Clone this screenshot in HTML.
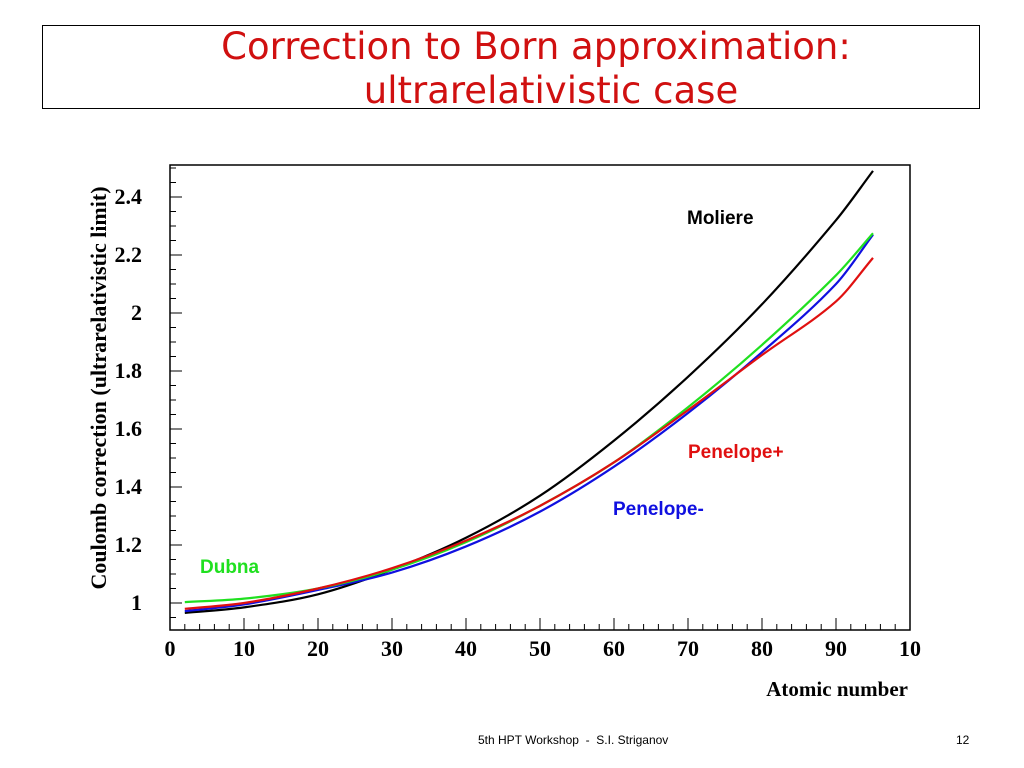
<!DOCTYPE html>
<html><head><meta charset="utf-8"><style>
body{margin:0;background:#fff;width:1024px;height:768px;overflow:hidden;font-family:"Liberation Sans",sans-serif}
.tl{position:absolute;color:#d01010;font-size:37px;line-height:42px;font-family:'DejaVu Sans',sans-serif;white-space:nowrap;transform:translateX(-50%)}
</style></head><body>
<div style="position:absolute;left:42px;top:25px;width:938px;height:84px;border:1px solid #000;box-sizing:border-box"></div>
<div class="tl" style="left:536px;top:26px">Correction to Born approximation:</div>
<div class="tl" style="left:551px;top:70px">ultrarelativistic case</div>
<svg id="chart" width="1024" height="768" style="position:absolute;left:0;top:0"></svg>
<div style="position:absolute;left:478px;top:733px;font-size:12px">5th HPT Workshop &nbsp;- &nbsp;S.I. Striganov</div>
<div style="position:absolute;left:956px;top:733px;font-size:12px">12</div>
<script>
const zVals=[2,10,20,30,40,50,60,70,80,90,95];
const moliere=[0.966,0.985,1.03,1.115,1.225,1.37,1.56,1.78,2.03,2.32,2.49];
const dubna=[1.003,1.015,1.05,1.115,1.21,1.335,1.485,1.675,1.89,2.13,2.275];
const penPlus=[0.98,1.0,1.05,1.12,1.215,1.335,1.485,1.665,1.855,2.04,2.19];
const penMinus=[0.972,0.995,1.045,1.105,1.195,1.315,1.47,1.655,1.865,2.1,2.27];
const xTicks=[0,10,20,30,40,50,60,70,80,90,100];
const xTickLabels=["0","10","20","30","40","50","60","70","80","90","10"];
const yTicks=[1,1.2,1.4,1.6,1.8,2,2.2,2.4];
const yTickLabels=["1","1.2","1.4","1.6","1.8","2","2.2","2.4"];
const L=170,R=910,T=165,B=630;
const X=v=>170+v*7.4, Y=v=>603-(v-1)*290;
const svg=document.getElementById('chart');const NS='http://www.w3.org/2000/svg';
function mk(t,a,p){const e=document.createElementNS(NS,t);for(const k in a)e.setAttribute(k,a[k]);(p||svg).appendChild(e);return e;}
const fr=mk('rect',{x:L,y:T,width:R-L,height:B-T,fill:'none',stroke:'#000','stroke-width':1.5});


let d='';
for(let v=0;v<=100;v+=2){const maj=v%10==0;d+=`M${X(v)},${B}v${maj?-12:-6}`;}
for(let v=0.95;v<=2.5;v+=0.05){const r=Math.round(v*100);const maj=r%20==0;d+=`M${L},${Y(v)}h${maj?12:6}`;}
const tk=mk('path',{d:d,stroke:'#000','stroke-width':1,fill:'none'});


xTicks.forEach((v,i)=>{const t=mk('text',{x:X(v),y:656,'text-anchor':'middle','font-family':'Liberation Serif','font-weight':'bold','font-size':22});t.textContent=xTickLabels[i];

});
yTicks.forEach((v,i)=>{const t=mk('text',{x:142,y:Y(v)+7,'text-anchor':'end','font-family':'Liberation Serif','font-weight':'bold','font-size':22});t.textContent=yTickLabels[i];

});
const xt=mk('text',{x:908,y:696,'text-anchor':'end','font-family':'Liberation Serif','font-weight':'bold','font-size':21});xt.textContent='Atomic number';


const yt=mk('text',{x:0,y:0,'text-anchor':'middle','font-family':'Liberation Serif','font-weight':'bold','font-size':22,transform:'translate(106,388) rotate(-90)'});yt.textContent='Coulomb correction (ultrarelativistic limit)';


function line(arr,col,name){let p='';const n=arr.length;
for(let i=0;i<n-1;i++){const x0=zVals[i],x1=zVals[i+1];
const m0=i>0?(arr[i+1]-arr[i-1])/(zVals[i+1]-zVals[i-1]):(arr[1]-arr[0])/(zVals[1]-zVals[0]);
const m1=i+2<n?(arr[i+2]-arr[i])/(zVals[i+2]-zVals[i]):(arr[n-1]-arr[n-2])/(zVals[n-1]-zVals[n-2]);
const h=x1-x0;if(i==0)p+=`M${X(x0)},${Y(arr[i])}`;
p+=`C${X(x0+h/3)},${Y(arr[i]+m0*h/3)} ${X(x1-h/3)},${Y(arr[i+1]-m1*h/3)} ${X(x1)},${Y(arr[i+1])}`;}
const e=mk('path',{d:p,stroke:col,'stroke-width':2.2,fill:'none'});

}
line(moliere,'#000','moliere-line');
line(penMinus,'#1010e0','penelope-minus-line');
line(dubna,'#20e020','dubna-line');
line(penPlus,'#e01010','penelope-plus-line');
function lab(txt,x,y,col,name){const t=mk('text',{x:x,y:y,fill:col,'font-family':'Liberation Sans','font-weight':'bold','font-size':19});t.textContent=txt;

}
lab('Moliere',687,224,'#000','moliere-label');
lab('Penelope+',688,458,'#e01010','penelope-plus-label');
lab('Penelope-',613,515,'#1010e0','penelope-minus-label');
lab('Dubna',200,573,'#20e020','dubna-label');
</script>
</body></html>
